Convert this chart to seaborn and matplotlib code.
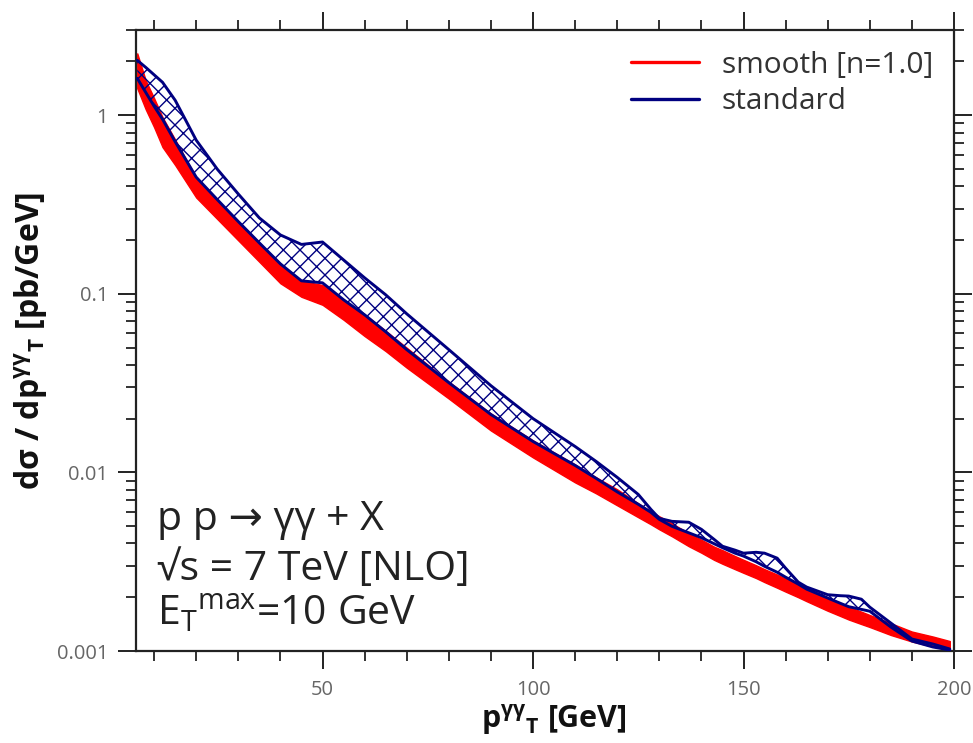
import numpy as np
import pandas as pd
import matplotlib
matplotlib.use("Agg")
import matplotlib.pyplot as plt
import seaborn as sns
from matplotlib.lines import Line2D
from matplotlib.ticker import LogLocator, FuncFormatter, MultipleLocator, NullFormatter

# ---- data ----
pt = [6, 8, 10, 12, 15, 20, 25, 30, 35, 40, 45, 50, 55, 60, 65, 70, 80, 90, 100,
      110, 115, 120, 125, 128, 130, 133, 137, 140, 143, 145, 148, 150, 153, 155,
      158, 160, 163, 165, 170, 173, 175, 178, 180, 185, 190, 195, 199]

smooth_hi = [2.22, 1.569, 1.245, 0.975, 0.730, 0.447, 0.337, 0.2525, 0.1902, 0.1471,
             0.1182, 0.112, 0.0926, 0.0767, 0.0621, 0.0499, 0.0322, 0.02136, 0.01510,
             0.01108, 0.00938, 0.00804, 0.00671, 0.00605, 0.00568, 0.00519, 0.00456,
             0.00420, 0.00384, 0.00367, 0.00340, 0.00324, 0.00302, 0.00287, 0.00268,
             0.00254, 0.00237, 0.00225, 0.00199, 0.00185, 0.00177, 0.00166, 0.00159,
             0.00143, 0.001285, 0.001205, 0.001137]

smooth_lo = [1.415, 1.080, 0.857, 0.663, 0.526, 0.346, 0.2624, 0.199, 0.151, 0.1145,
             0.0962, 0.0868, 0.0716, 0.0580, 0.0478, 0.0386, 0.0259, 0.01716, 0.01213,
             0.00879, 0.00763, 0.00654, 0.00561, 0.00512, 0.00480, 0.00439, 0.00386,
             0.00355, 0.00324, 0.00308, 0.00287, 0.00274, 0.00256, 0.00243, 0.00226,
             0.00215, 0.00200, 0.00190, 0.00168, 0.00157, 0.00150, 0.001415, 0.001362,
             0.001229, 0.001130, 0.001059, 0.001013]

standard_hi = [2.03, 1.854, 1.684, 1.529, 1.213, 0.725, 0.499, 0.362, 0.266, 0.2136,
               0.189, 0.195, 0.1548, 0.1229, 0.0988, 0.0773, 0.0487, 0.0306, 0.02002,
               0.01397, 0.01152, 0.00938, 0.00753, 0.00621, 0.00553, 0.00532, 0.00526,
               0.00480, 0.00422, 0.00386, 0.00367, 0.00353, 0.00357, 0.00353, 0.00331,
               0.00291, 0.00243, 0.00228, 0.002066, 0.00204, 0.00203, 0.00195, 0.00176,
               0.001434, 0.001167, 0.001094, 0.001026]

standard_lo = [1.609, 1.344, 1.123, 0.950, 0.711, 0.450, 0.337, 0.2538, 0.1927, 0.1471,
               0.1182, 0.1152, 0.0926, 0.0763, 0.0613, 0.0487, 0.0318, 0.0211, 0.01490,
               0.01094, 0.00926, 0.00778, 0.00663, 0.00598, 0.00546, 0.00499, 0.00459,
               0.00431, 0.00399, 0.00379, 0.00353, 0.00340, 0.00316, 0.00298, 0.00276,
               0.00259, 0.00237, 0.00222, 0.00198, 0.00185, 0.00177, 0.00171, 0.00167,
               0.001362, 0.001137, 0.001053, 0.001013]

labels = ["smooth [n=1.0]", "standard"]
annot_lines = ["p p \u2192 \u03b3\u03b3 + X",
               "\u221as = 7 TeV [NLO]",
               r"E$_\mathrm{T}$$^\mathrm{max}$=10 GeV"]

RED = "#ff0000"
NAVY = "#000080"

sns.set_theme(style="ticks")
plt.rcParams['font.family'] = ['Open Sans', 'DejaVu Sans']
plt.rcParams['mathtext.fontset'] = 'custom'
plt.rcParams['mathtext.rm'] = 'Open Sans'
plt.rcParams['mathtext.bf'] = 'Open Sans:bold'
plt.rcParams['mathtext.it'] = 'Open Sans'
plt.rcParams['hatch.linewidth'] = 1.0
plt.rcParams['hatch.color'] = NAVY

W, H = 973, 743
fig = plt.figure(figsize=(W / 100, H / 100), dpi=100)
ax = fig.add_axes([136 / W, 1 - 651 / H, 818 / W, 621 / H])
ax.set_yscale('log')

df = pd.DataFrame({"pt": pt, "smooth_lo": smooth_lo, "smooth_hi": smooth_hi,
                   "standard_lo": standard_lo, "standard_hi": standard_hi})

# smooth band: solid red
ax.fill_between(df["pt"], df["smooth_lo"], df["smooth_hi"], facecolor=RED,
                edgecolor=RED, linewidth=1.0, zorder=2)
# standard band: cross-hatched navy
ax.fill_between(df["pt"], df["standard_lo"], df["standard_hi"], facecolor='none',
                edgecolor=NAVY, hatch='xx', linewidth=0, zorder=3)
for col in ["standard_lo", "standard_hi"]:
    sns.lineplot(data=df, x="pt", y=col, color=NAVY, linewidth=2.1, ax=ax,
                 estimator=None, legend=False, zorder=4)

ax.set_xlim(5.7, 200)
ax.set_ylim(0.001, 3.0)

ax.xaxis.set_major_locator(MultipleLocator(50))
ax.xaxis.set_minor_locator(MultipleLocator(10))
ax.yaxis.set_major_locator(LogLocator(base=10))
ax.yaxis.set_minor_locator(LogLocator(base=10, subs=np.arange(2, 10)))
ax.yaxis.set_major_formatter(FuncFormatter(lambda v, _: f"{v:g}"))
ax.yaxis.set_minor_formatter(NullFormatter())

ax.tick_params(which='both', direction='out', top=True, right=True,
               color='#222222', labelcolor='#666666', labelsize=14.5)
ax.tick_params(which='major', length=13, width=1.4)
ax.tick_params(which='minor', length=7, width=1.3)
ax.tick_params(axis='x', which='major', pad=8)
ax.tick_params(axis='y', which='major', pad=7)
for s in ax.spines.values():
    s.set_linewidth(1.6)
    s.set_color('#222222')

ax.set_xlabel(r"$\mathbf{p}^{\mathbf{\gamma\gamma}}{}_{\mathbf{T}}$ [GeV]",
              fontsize=22, fontweight='bold', color='#111111')
ax.xaxis.set_label_coords(0.511, -0.082)
ax.set_ylabel(r"d$\mathbf{\sigma}$ / d$\mathbf{p}^{\mathbf{\gamma\gamma}}{}_{\mathbf{T}}$ [pb/GeV]",
              fontsize=23, fontweight='bold', color='#111111')
ax.yaxis.set_label_coords(-0.105, 0.5)

handles = [Line2D([], [], color=RED, lw=2.4), Line2D([], [], color=NAVY, lw=2.4)]
leg = ax.legend(handles, labels, loc='upper right', frameon=False, fontsize=21.5,
                handlelength=2.3, handletextpad=0.75, labelspacing=0.25,
                borderaxespad=0.3)
for t in leg.get_texts():
    t.set_color('#333333')

ys = [530, 580, 625]
for line, yb in zip(annot_lines, ys):
    fig.text(157 / W, 1 - yb / H, line, fontsize=29.5, color='#222222',
             va='baseline', ha='left')

fig.savefig("out.png", dpi=100)
